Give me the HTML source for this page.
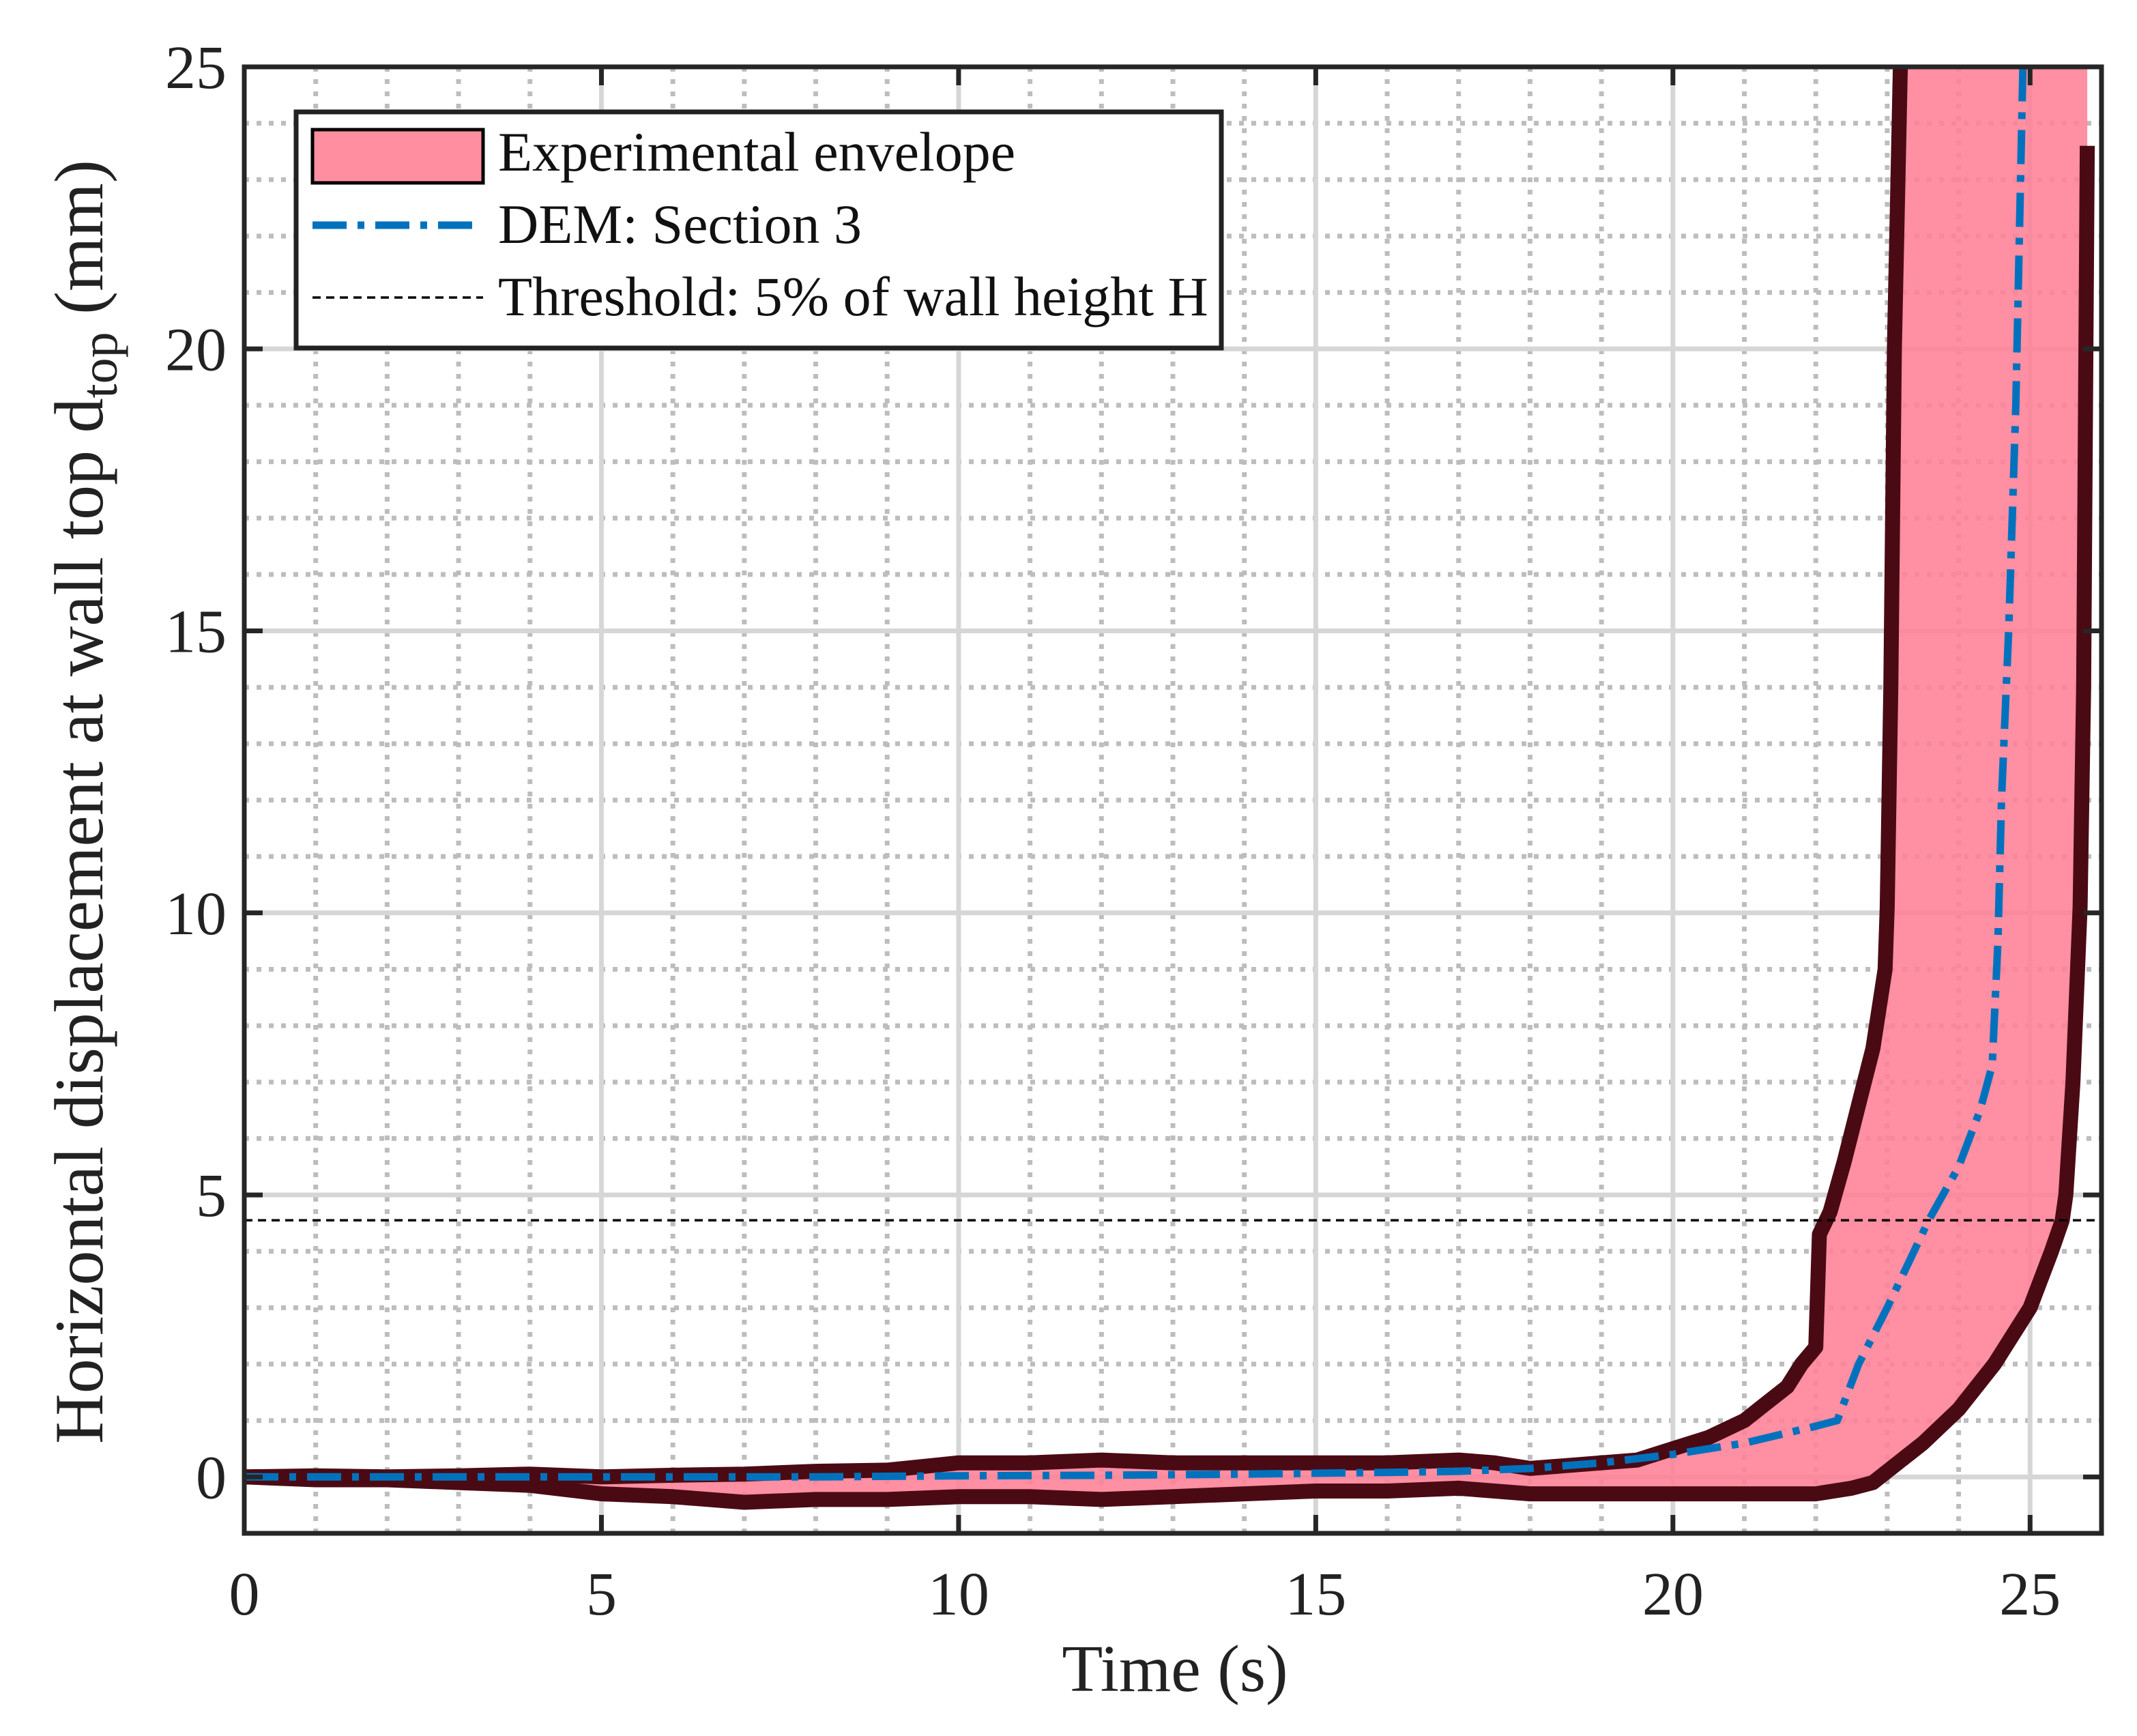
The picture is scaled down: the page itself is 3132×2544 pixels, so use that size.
<!DOCTYPE html>
<html><head><meta charset="utf-8"><style>
html,body{margin:0;padding:0;background:#fff;}
svg{display:block;font-family:"Liberation Serif","DejaVu Serif",serif;}
</style></head><body>
<svg id="chart" width="3132" height="2544" viewBox="0 0 3132 2544" xmlns="http://www.w3.org/2000/svg">
<defs><clipPath id="plotclip"><rect x="358" y="98" width="2722" height="2149"/></clipPath></defs>
<rect x="0" y="0" width="3132" height="2544" fill="#fff"/>
<g id="grid"></g>
<g id="marks" clip-path="url(#plotclip)"></g>
<g id="axes"></g>
<text x="1722" y="2478" font-size="98" text-anchor="middle" fill="#222">Time (s)</text>
<text transform="translate(150,1175) rotate(-90)" font-size="102" text-anchor="middle" fill="#222">Horizontal displacement at wall top d<tspan baseline-shift="-28%" font-size="76">top</tspan> (mm)</text>
<g>
<rect x="434" y="164" width="1356" height="346" fill="#fff" stroke="#222" stroke-width="7"/>
<rect x="458" y="190" width="250" height="78" fill="#ff8fa0" stroke="#000" stroke-width="5"/>
<text x="730" y="250" font-size="82" fill="#111">Experimental envelope</text>
<line x1="458" y1="330" x2="708" y2="330" stroke="#0072bd" stroke-width="11" stroke-dasharray="50 16 10 16"/>
<text x="730" y="356" font-size="82" fill="#111">DEM: Section 3</text>
<line x1="458" y1="436" x2="708" y2="436" stroke="#000" stroke-width="3.5" stroke-dasharray="12 8"/>
<text x="730" y="462" font-size="82" fill="#111">Threshold: 5% of wall height H</text>
</g>
</svg>
<script>
const upperT=[0,1,2,3,4,5,6,7,8,9,10,11,12,13,14,15,16,17,17.5,18,18.5,19,19.5,20,20.5,21,21.3,21.6,21.8,22,22.05,22.2,22.4,22.6,22.8,22.97,23.0,23.05,23.1,23.2];
const upperV=[0,0.02,0,0.02,0.05,0,0.03,0.05,0.1,0.12,0.25,0.25,0.3,0.25,0.25,0.25,0.25,0.3,0.25,0.15,0.2,0.25,0.3,0.5,0.7,1.0,1.3,1.6,2.0,2.3,4.3,4.7,5.6,6.6,7.6,9.0,10.1,14,20,26];
const lowerT=[0,1,2,3,4,5,6,7,8,9,10,11,12,13,14,15,16,17,18,19,20,21,22,22.5,22.8,23,23.5,24,24.5,25,25.3,25.45,25.5,25.6,25.7,25.75,25.8];
const lowerV=[0,-0.05,-0.05,-0.1,-0.15,-0.3,-0.35,-0.45,-0.4,-0.4,-0.35,-0.35,-0.4,-0.35,-0.3,-0.25,-0.25,-0.2,-0.3,-0.3,-0.3,-0.3,-0.3,-0.2,-0.1,0.1,0.6,1.2,2.0,3.0,4.0,4.55,5.0,7.0,10.1,14,23.6];
const demT=[0,2,4,6,8,10,12,14,16,17,18,19,20,21,22,22.3,22.6,23,23.3,23.58,24,24.3,24.47,24.55,24.6,24.7,24.8,24.9,25.0];
const demV=[0,0,0,0,0,0.02,0.03,0.05,0.08,0.1,0.15,0.25,0.4,0.6,0.9,1.0,2.0,3.0,3.8,4.55,5.5,6.5,7.3,9.5,12,15,19,25,27];
const threshold=[4.55];
const xTicks=[0,5,10,15,20,25];
const yTicks=[0,5,10,15,20,25];
const X0=358,X1=3080,Y0=2247,Y1=98,XMIN=0,XMAX=26,YMIN=-1,YMAX=25;
const sx=t=>X0+(t-XMIN)/(XMAX-XMIN)*(X1-X0);
const sy=v=>Y0-(v-YMIN)/(YMAX-YMIN)*(Y0-Y1);
const NS="http://www.w3.org/2000/svg";
function mk(tag,attrs,parent){const e=document.createElementNS(NS,tag);for(const k in attrs)e.setAttribute(k,attrs[k]);parent.appendChild(e);return e;}
const grid=document.getElementById('grid'),marks=document.getElementById('marks'),axes=document.getElementById('axes');
for(let t=1;t<26;t++){if(t%5===0)continue;const l=mk('line',{x1:sx(t),x2:sx(t),y1:Y1,y2:Y0,stroke:'#bdbdbd','stroke-width':7,'stroke-dasharray':'7 11'},grid);

}
for(let v=0;v<25;v++){if(v%5===0)continue;const l=mk('line',{x1:X0,x2:X1,y1:sy(v),y2:sy(v),stroke:'#bdbdbd','stroke-width':7,'stroke-dasharray':'7 11'},grid);

}
xTicks.forEach(t=>{const l=mk('line',{x1:sx(t),x2:sx(t),y1:Y1,y2:Y0,stroke:'#d6d6d6','stroke-width':7},grid);

});
yTicks.forEach(v=>{const l=mk('line',{x1:X0,x2:X1,y1:sy(v),y2:sy(v),stroke:'#d6d6d6','stroke-width':7},grid);

});
const up=upperT.map((t,i)=>[sx(t),sy(upperV[i])]);
const lo=lowerT.map((t,i)=>[sx(t),sy(lowerV[i])]);
const pts=a=>a.map(p=>p[0].toFixed(1)+','+p[1].toFixed(1)).join(' ');
const lastT=lowerT[lowerT.length-1];
const fill=mk('polygon',{points:pts(up.concat([[sx(lastT),sy(26)]]).concat(lo.slice().reverse())),fill:'#ff7f95','fill-opacity':0.88},marks);


const ul=mk('polyline',{points:pts(up),fill:'none',stroke:'#4a0a14','stroke-width':22,'stroke-linejoin':'round'},marks);


const ll=mk('polyline',{points:pts(lo),fill:'none',stroke:'#4a0a14','stroke-width':22,'stroke-linejoin':'round'},marks);


const th=mk('line',{x1:X0,x2:X1,y1:sy(threshold[0]),y2:sy(threshold[0]),stroke:'#000','stroke-width':3.5,'stroke-dasharray':'12 8'},marks);


const dem=mk('polyline',{points:pts(demT.map((t,i)=>[sx(t),sy(demV[i])])),fill:'none',stroke:'#0072bd','stroke-width':11,'stroke-dasharray':'50 16 10 16'},marks);


const fr=mk('rect',{x:X0,y:Y1,width:X1-X0,height:Y0-Y1,fill:'none',stroke:'#262626','stroke-width':7},axes);


xTicks.forEach(t=>{mk('line',{x1:sx(t),x2:sx(t),y1:Y0,y2:Y0-27,stroke:'#262626','stroke-width':7},axes);mk('line',{x1:sx(t),x2:sx(t),y1:Y1,y2:Y1+27,stroke:'#262626','stroke-width':7},axes);
const tx=mk('text',{x:sx(t),y:2366,'font-size':90,'text-anchor':'middle',fill:'#222'},axes);tx.textContent=t;

});
yTicks.forEach(v=>{mk('line',{x1:X0,x2:X0+27,y1:sy(v),y2:sy(v),stroke:'#262626','stroke-width':7},axes);mk('line',{x1:X1,x2:X1-27,y1:sy(v),y2:sy(v),stroke:'#262626','stroke-width':7},axes);
const tx=mk('text',{x:332,y:sy(v)+31,'font-size':90,'text-anchor':'end',fill:'#222'},axes);tx.textContent=v;

});
</script>
</body></html>
